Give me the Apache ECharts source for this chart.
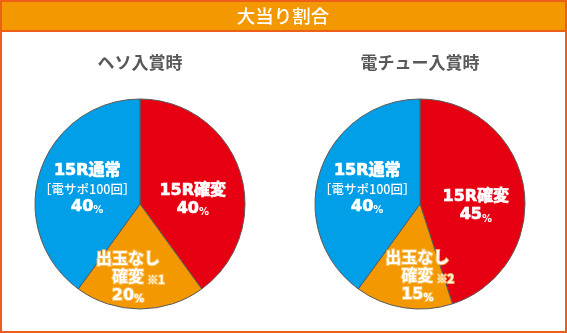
<!DOCTYPE html>
<html>
<head>
<meta charset="utf-8">
<script src="https://cdn.jsdelivr.net/npm/echarts@6/dist/echarts.min.js"></script>
<style>
  html, body { margin: 0; padding: 0; background: #fff; }
  #chart { width: 567px; height: 333px; }
</style>
</head>
<body>
<div id="chart"></div>
<script>
// 大当り割合: two pies, one per entry route
const headerTitle = '大当り割合';
const pieTitles = ['ヘソ入賞時', '電チュー入賞時'];
const categories = ['15R確変', '出玉なし確変', '15R通常'];
const hesoValues = [40, 20, 40];
const denchuValues = [45, 15, 40];
const footnotes = ['※1', '※2'];

const RED = '#e60012';
const ORANGE = '#f39800';
const BLUE = '#009fe8';
const FRAME = '#eb5f1a';
const FONT = '"Noto Sans CJK JP", "Noto Sans", sans-serif';
// heavy Latin glyphs first, CJK falls through to Noto
const HEAVY = '"DejaVu Sans", "Noto Sans CJK JP", sans-serif';

const chart = echarts.init(document.getElementById('chart'), null, { renderer: 'canvas' });

const richBase = {
  b: { fontFamily: HEAVY, fontSize: 16, fontWeight: 'bold', color: '#fff', lineHeight: 18, textBorderColor: '#fff', textBorderWidth: 0.7 },
  p: { fontFamily: HEAVY, fontSize: 10, fontWeight: 'bold', color: '#fff', lineHeight: 18, verticalAlign: 'bottom' },
  s: { fontFamily: FONT, fontSize: 12.5, fontWeight: 500, color: '#fff', lineHeight: 18 },
  n: { fontFamily: FONT, fontSize: 11, fontWeight: 'bold', color: '#fff', lineHeight: 18, padding: [4, 0, 0, 5], width: 14 },
  sp: { width: 19, lineHeight: 18 }
};

// the orange slice's label carries a soft light-orange halo
const HALO = 'rgba(250,196,100,0.9)';
const richHalo = {
  b: Object.assign({}, richBase.b, { textBorderColor: HALO, textBorderWidth: 2 }),
  p: Object.assign({}, richBase.p, { textBorderColor: HALO, textBorderWidth: 2 }),
  n: Object.assign({}, richBase.n, { textBorderColor: HALO, textBorderWidth: 2 }),
  sp: richBase.sp
};

function buildData(values, note, offsets) {
  return [
    {
      name: categories[0], value: values[0],
      itemStyle: { color: RED },
      label: {
        formatter: '{b|15R確変}\n{b|' + values[0] + '}{p|%}',
        offset: offsets[0]
      }
    },
    {
      name: categories[1], value: values[1],
      itemStyle: { color: ORANGE },
      label: {
        formatter: '{b|出玉なし}\n{sp|}{b|確変}{n|' + note + '}\n{b|' + values[1] + '}{p|%}',
        offset: offsets[1],
        rich: richHalo
      }
    },
    {
      name: categories[2], value: values[2],
      itemStyle: { color: BLUE },
      label: {
        formatter: '{b|15R通常}\n{s|［電サポ100回］}\n{b|' + values[2] + '}{p|%}',
        offset: offsets[2]
      }
    }
  ];
}

function pieSeries(center, values, note, offsets) {
  return {
    type: 'pie',
    center: center,
    radius: 105,
    startAngle: 90,
    clockwise: true,
    silent: true,
    animation: false,
    itemStyle: { borderColor: '#5a5a5a', borderWidth: 1 },
    label: {
      show: true,
      position: 'inside',
      align: 'center',
      rich: richBase
    },
    labelLine: { show: false },
    data: buildData(values, note, offsets)
  };
}

chart.setOption({
  backgroundColor: '#fff',
  graphic: [
    { type: 'rect', shape: { x: 1, y: 1, width: 565, height: 331 }, style: { fill: '#fff', stroke: FRAME, lineWidth: 2 }, z: -10 },
    { type: 'rect', shape: { x: 1, y: 1, width: 565, height: 30 }, style: { fill: ORANGE, stroke: FRAME, lineWidth: 2 }, z: -9 },
    { type: 'text', x: 283, y: 16, style: { text: headerTitle, fill: '#fff', font: '500 18.5px ' + FONT, align: 'center', verticalAlign: 'middle' } },
    { type: 'text', x: 140, y: 63, style: { text: pieTitles[0], fill: '#595757', font: 'bold 17px ' + FONT, align: 'center', verticalAlign: 'middle' } },
    { type: 'text', x: 420, y: 63, style: { text: pieTitles[1], fill: '#595757', font: 'bold 17px ' + FONT, align: 'center', verticalAlign: 'middle' } }
  ],
  series: [
    pieSeries([140, 204], hesoValues, footnotes[0], [[0, 13], [-12, 18], [0, 2]]),
    pieSeries([420, 204], denchuValues, footnotes[1], [[1, 11], [6, 18], [0, 2]])
  ]
});
</script>
</body>
</html>
